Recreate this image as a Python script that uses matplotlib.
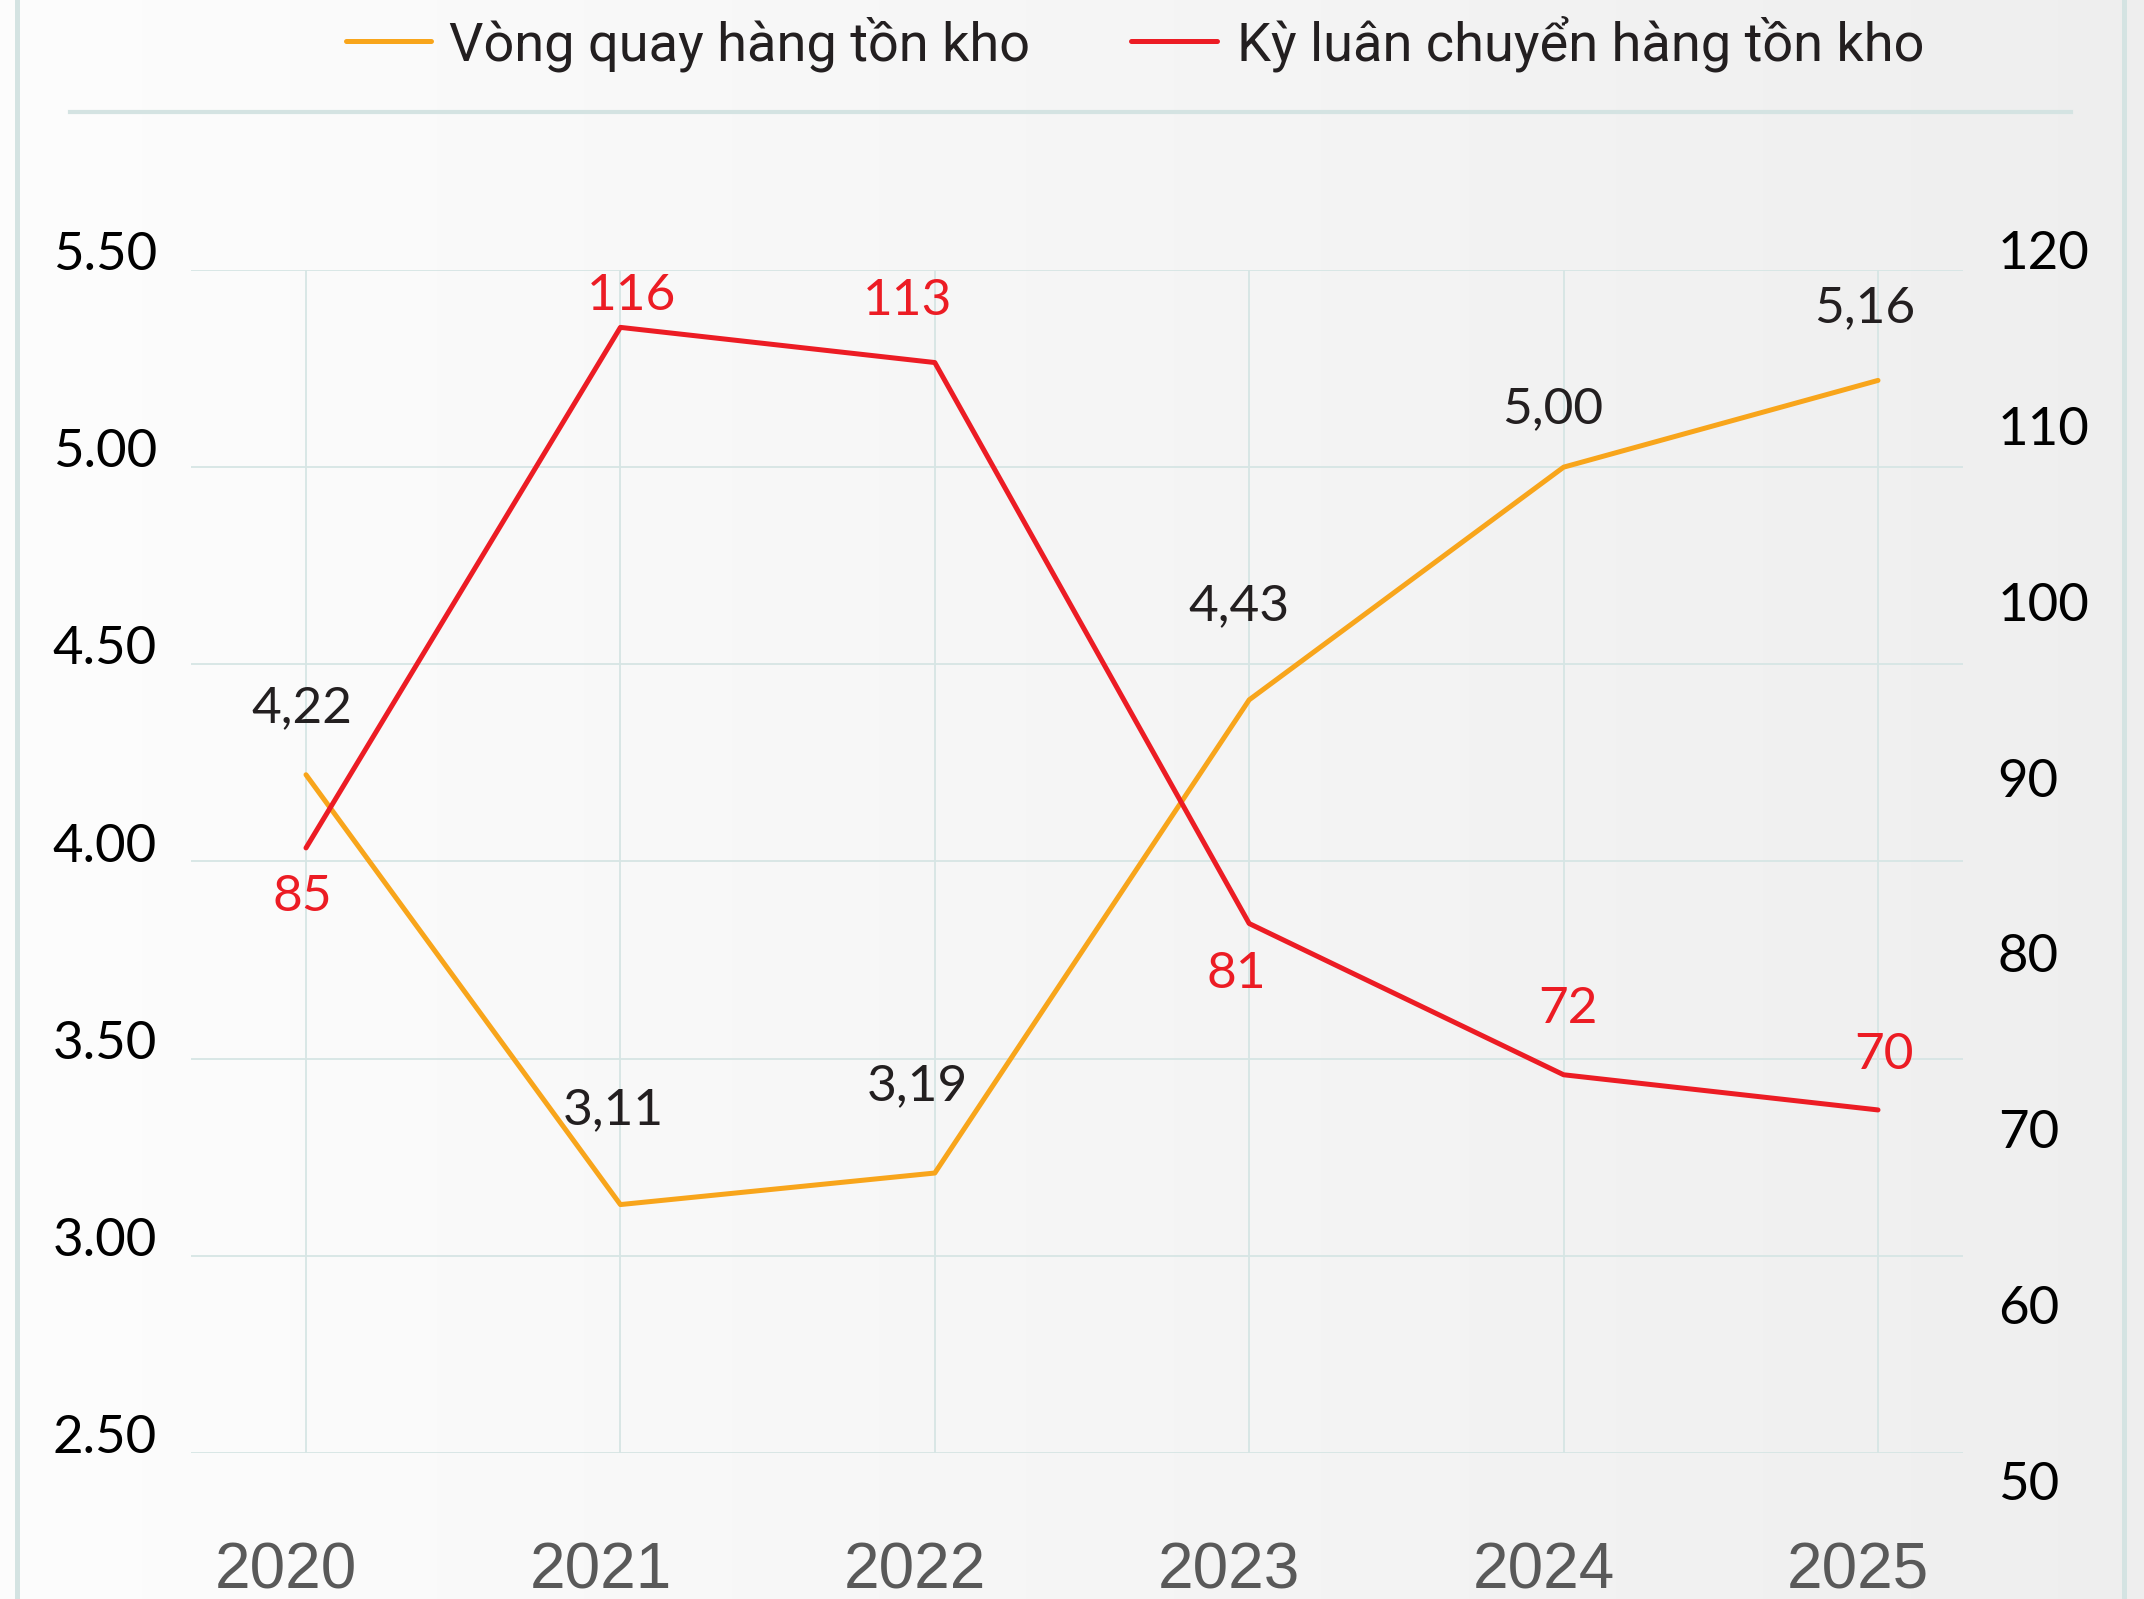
import matplotlib
matplotlib.use('Agg')
import numpy as np
import matplotlib.pyplot as plt
from matplotlib.lines import Line2D
from matplotlib.transforms import ScaledTranslation

# data
years = [2020, 2021, 2022, 2023, 2024, 2025]
turnover = [4.22, 3.13, 3.21, 4.41, 5.00, 5.22]           # vòng quay (left axis)
turnover_labels = ['4,22', '3,11', '3,19', '4,43', '5,00', '5,16']
days = [86.0, 115.6, 113.6, 81.7, 73.1, 71.1]             # kỳ luân chuyển (right axis)
days_labels = ['85', '116', '113', '81', '72', '70']
left_ticks = [2.5, 3.0, 3.5, 4.0, 4.5, 5.0, 5.5]
right_ticks = [50, 60, 70, 80, 90, 100, 110, 120]
series_names = ['Vòng quay hàng tồn kho', 'Kỳ luân chuyển hàng tồn kho']

# label offsets in pixels (dx, dy of label centre from the point)
orange_off = [(-4, 71), (-7, 98), (-17, 91), (-10, 98), (-11, 62), (-13, 76)]
red_off = [(-4, -45), (11, 35), (-27, 66), (-13, -46), (4, 70), (6, 59)]

ORANGE = '#F8A51B'
RED = '#EC1C24'
GRID = '#d6e5e4'
FRAME = '#d4e3e2'
TXT = '#231f20'

W, H, DPI = 2144, 1599, 100
fig = plt.figure(figsize=(W / DPI, H / DPI), dpi=DPI)


def fx(px):
    return px / W


def fy(py):
    return 1 - py / H


# background gradient
bg = fig.add_axes([0, 0, 1, 1], zorder=-10)
g = np.linspace(0.992, 0.935, 1024)
bg.imshow(np.dstack([g, g, g])[None, :, :].reshape(1, -1, 3), aspect='auto', extent=[0, 1, 0, 1])
bg.axis('off')

# frame lines + divider
for x in (17, 2124):
    fig.add_artist(Line2D([fx(x), fx(x)], [0, 1], color=FRAME, lw=3.6))
fig.add_artist(Line2D([fx(70), fx(2071)], [fy(112), fy(112)], color=FRAME, lw=3))

xlim = (2020 - 115 / 314.4, 2025 + 85 / 314.4)

ax = fig.add_axes([fx(191), fy(1453), fx(1963) - fx(191), fy(270) - fy(1453)])
ax.set_facecolor('none')
ax.set_xlim(*xlim)
ax.set_ylim(2.5, 5.5)
ax.set_yticks(left_ticks, labels=[f'{v:.2f}' for v in left_ticks])
ax.tick_params(axis='y', length=0, pad=24.5, labelsize=38, labelcolor='black')
plt.setp(ax.get_yticklabels(), va='baseline', family='Lato')
ax.set_xticks(years, labels=[str(y) for y in years])
ax.tick_params(axis='x', length=0, pad=64, labelsize=46, labelcolor='#595959')
shift = ScaledTranslation(-20 / DPI, 0, fig.dpi_scale_trans)
for lab in ax.get_xticklabels():
    lab.set_family('Liberation Sans')
    lab.set_transform(lab.get_transform() + shift)
ax.grid(True, color=GRID, lw=1.3)
for s in ax.spines.values():
    s.set_visible(False)

ax.plot(years, turnover, color=ORANGE, lw=3.6, solid_capstyle='round')
for x, y, t, (dx, dy) in zip(years, turnover, turnover_labels, orange_off):
    ax.annotate(t, (x, y), xytext=(dx, dy - 18), textcoords='offset pixels',
                ha='center', va='baseline', fontsize=37, color=TXT, family='Lato')

# right axis scale sits a bit taller than the grid
ax2 = fig.add_axes([fx(191), fy(1481), fx(1963) - fx(191), fy(250) - fy(1481)])
ax2.set_facecolor('none')
ax2.set_xlim(*xlim)
ax2.set_ylim(50, 120)
ax2.set_xticks([])
ax2.yaxis.tick_right()
ax2.set_yticks(right_ticks)
ax2.tick_params(axis='y', length=0, pad=25, labelsize=38, labelcolor='black')
plt.setp(ax2.get_yticklabels(), family='Lato')
for s in ax2.spines.values():
    s.set_visible(False)

ax2.plot(years, days, color=RED, lw=3.6, solid_capstyle='round')
for x, y, t, (dx, dy) in zip(years, days, days_labels, red_off):
    ax2.annotate(t, (x, y), xytext=(dx, dy - 18), textcoords='offset pixels',
                 ha='center', va='baseline', fontsize=37, color=RED, family='Lato')

# legend drawn by hand
for (x0, x1, tx), c, name in zip([(346, 431, 449), (1131, 1217, 1237)], [ORANGE, RED], series_names):
    fig.add_artist(Line2D([fx(x0), fx(x1)], [fy(41), fy(41)], color=c, lw=3.6, solid_capstyle='round'))
    fig.text(fx(tx), fy(60), name, ha='left', va='baseline', color=TXT,
             family='Roboto', fontsize=39)

fig.savefig('out.png', dpi=DPI)
